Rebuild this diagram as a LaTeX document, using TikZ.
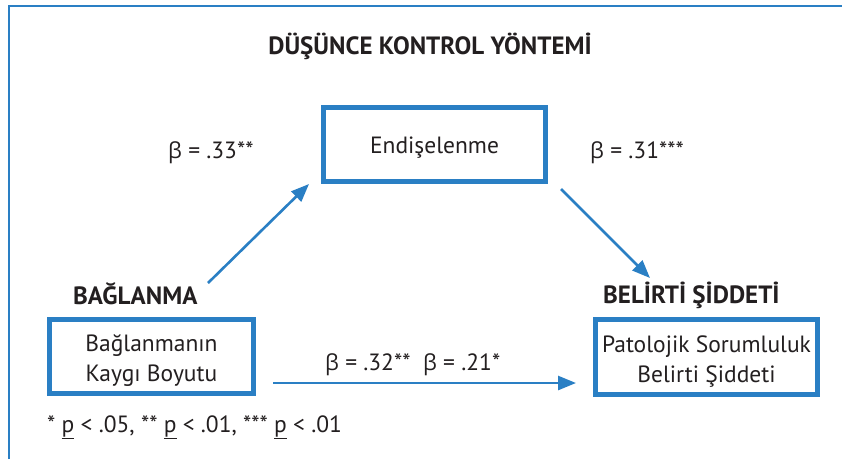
\documentclass[tikz,border=0pt]{standalone}
\usepackage{fontspec}
\setmainfont{PT Sans}
\newfontfamily\grk{Open Sans}
\usetikzlibrary{arrows.meta}
\definecolor{fblue}{HTML}{2A7FC4}
\definecolor{ftext}{HTML}{231F20}
\tikzset{
  boxnode/.style={draw=fblue, line width=5pt, fill=white, text=ftext,
    font=\fontsize{23.5}{30}\selectfont, inner sep=0pt},
  headnode/.style={text=ftext, font=\fontsize{25}{28}\selectfont\bfseries, inner sep=0pt},
  lab/.style={text=ftext, font=\fontsize{23.5}{28}\selectfont, inner sep=0pt},
  arr/.style={draw=fblue, line width=2.6pt, -{Triangle[length=18pt,width=14pt]}},
}
\newcommand{\bt}{{\grk\fontsize{22}{28}\selectfont β}}
\newcommand{\shiftdown}[2]{\raisebox{-#1}[\height][\depth]{#2}}
\newcommand{\twoline}[2]{\shiftdown{4pt}{\begin{tabular}{@{}c@{}}#1\\#2\end{tabular}}}
\begin{document}
\begin{tikzpicture}[x=1pt,y=-1pt]
\useasboundingbox (0,0) rectangle (842,459);
\fill[white] (0,0) rectangle (842,459);
\draw[fblue, line width=1.6pt] (9,459) -- (9,6) -- (842,6);
\node[headnode] (title) at (430,46) {DÜŞÜNCE KONTROL YÖNTEMİ};
\node[boxnode, minimum width=222pt, minimum height=74pt] (endi) at (434.5,144.5) {\shiftdown{3pt}{Endişelenme}};
\node[boxnode, minimum width=204pt, minimum height=74pt] (bag) at (151.5,356.5) {\twoline{Bağlanmanın}{Kaygı Boyutu}};
\node[boxnode, minimum width=222pt, minimum height=75pt] (bel) at (706.5,357) {\twoline{Patolojik Sorumluluk}{Belirti Şiddeti}};
\node[headnode, anchor=west] (baghead) at (73,294) {BAĞLANMA};
\node[headnode, anchor=west] (belhead) at (603,295) {BELİRTİ ŞİDDETİ};
\node[lab, anchor=west] (b1) at (168,153) {\bt{} = .33**};
\node[lab, anchor=west] (b2) at (590,153) {\bt{} = .31***};
\node[lab, anchor=west] (b3) at (325,365) {\bt{} = .32**\ \ \bt{} = .21*};
\node[lab, anchor=west] (foot) at (47,427) {* \underline{p} < .05, ** \underline{p} < .01, *** \underline{p} < .01};
\coordinate (a1s) at (208,283);
\coordinate (a1e) at (309,184);
\coordinate (a2s) at (561,189);
\coordinate (a2e) at (650,278);
\coordinate (a3s) at (273,383);
\coordinate (a3e) at (576,383);
\draw[arr] (a1s) -- (a1e);
\draw[arr] (a2s) -- (a2e);
\draw[arr] (a3s) -- (a3e);
\end{tikzpicture}
\end{document}
